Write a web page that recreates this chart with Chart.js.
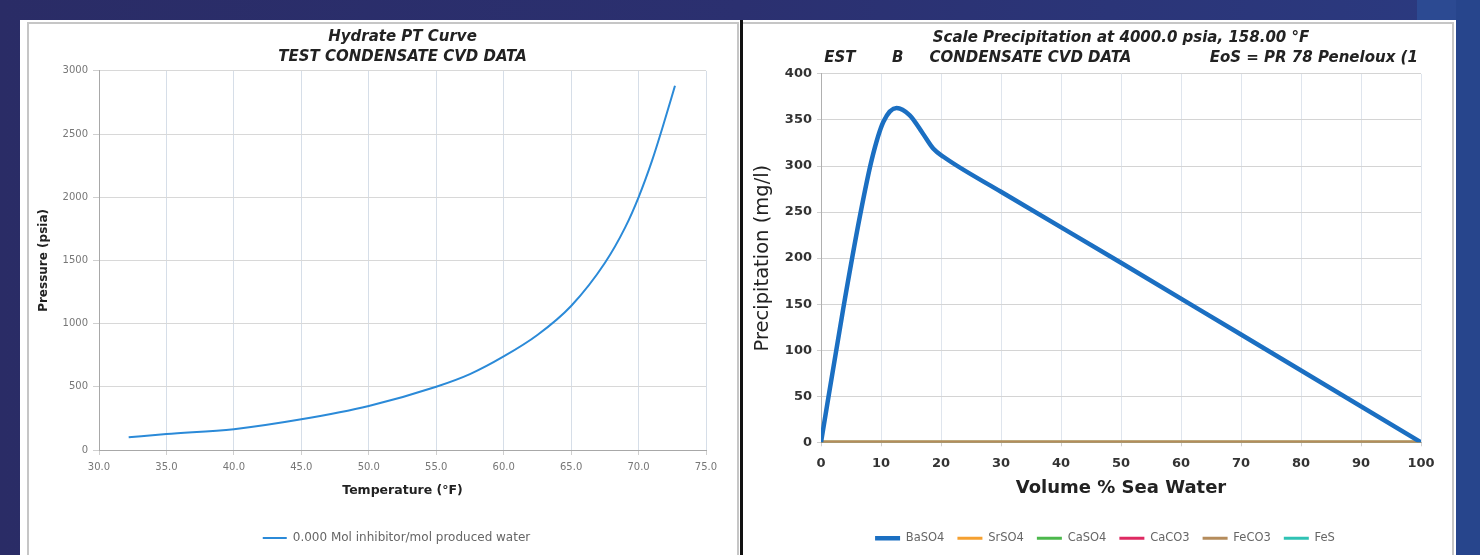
<!DOCTYPE html>
<html><head><meta charset="utf-8">
<script src="https://cdn.jsdelivr.net/npm/chart.js@4.4.0/dist/chart.umd.min.js"></script>
<style>
html,body{margin:0;padding:0;}
body{width:1480px;height:555px;overflow:hidden;position:relative;background:linear-gradient(90deg,#2a2c66 0%,#2b3070 50%,#2b3a80 100%);}
#tr{position:absolute;left:1417px;top:0;width:63px;height:20px;background:#2c4a92;}
#rs{position:absolute;left:1456px;top:0;width:24px;height:555px;background:#27458c;}
.panel{position:absolute;background:#fff;}
#p1{left:20px;top:20px;width:721px;height:535px;}
#p2{left:743px;top:20px;width:713px;height:535px;}
#dv{position:absolute;left:740px;top:20px;width:3px;height:535px;background:#111;}
.frame{position:absolute;border:2px solid #c6c6c6;}
#f1{left:27px;top:22px;width:708px;height:540px;}
#f2{left:743px;top:22px;width:709px;height:540px;border-left:none;}
canvas{position:absolute;}
#c1{left:22px;top:20px;}
#c2{left:744px;top:20px;}
</style></head>
<body>
<div id="tr"></div><div id="rs"></div>
<div class="panel" id="p1"></div><div class="panel" id="p2"></div>
<div class="frame" id="f1"></div><div class="frame" id="f2"></div>
<div id="dv"></div>
<canvas id="c2" width="722" height="535"></canvas>
<canvas id="c1" width="749" height="535"></canvas>
<script>
// ---- Left chart data: Hydrate PT curve ----
const hydrateTitle = ['Hydrate PT Curve', 'TEST CONDENSATE CVD DATA'];
const hydrateLabel = '0.000 Mol inhibitor/mol produced water';
const hydrateTemp = [32.2, 35, 40, 45, 50, 55, 57.5, 60, 62.5, 65, 67.5, 69, 70, 71, 71.8, 72.7];
const hydratePres = [100, 126, 165, 243, 348, 500, 600, 740, 910, 1140, 1480, 1760, 2000, 2290, 2560, 2882];
const hydrateXTicks = [30, 75, 5];
const hydrateYTicks = [0, 3000, 500];

// ---- Right chart data: Scale precipitation ----
const scaleTitle = ['Scale Precipitation at 4000.0 psia, 158.00 \u00B0F',
  'EST       B     CONDENSATE CVD DATA               EoS = PR 78 Peneloux (1'];
const seaWaterPct = [0, 3.7, 6.5, 8.5, 10.4, 12.6, 14.8, 17, 18.7, 20.4, 30, 50, 70, 100];
const baso4 = [0, 145, 246, 308, 348, 363, 355, 335, 319, 310, 272, 195, 117, 0];
const flatPct = [0, 100];
const srso4 = [0, 0];
const caso4 = [0, 0];
const caco3 = [0, 0];
const feco3 = [0, 0];
const fes = [0, 0];
const scaleNames = ['BaSO4', 'SrSO4', 'CaSO4', 'CaCO3', 'FeCO3', 'FeS'];
const scaleColors = ['#1b6fc2', '#f5a030', '#4cb84c', '#de2a62', '#b58c5c', '#2fc2b4'];
const scaleXTicks = [0, 100, 10];
const scaleYTicks = [0, 400, 50];

Chart.defaults.font.family = "'DejaVu Sans', sans-serif";
Chart.defaults.animation = false;

const pts = (xs, ys) => xs.map((x, i) => ({x: x, y: ys[i]}));
// invisible right-hand spacer axis so the legend centres like the original
const spacer = w => ({position: 'right', display: true, grid: {display: false, drawTicks: false},
  border: {display: false}, ticks: {display: false}, afterFit: s => { s.width = w; }});

new Chart(document.getElementById('c1'), {
  type: 'line',
  data: {datasets: [{
    label: hydrateLabel,
    data: pts(hydrateTemp, hydratePres),
    borderColor: '#2b8ad8', backgroundColor: '#2b8ad8',
    borderWidth: 2, pointRadius: 0, cubicInterpolationMode: 'monotone', fill: false
  }]},
  options: {
    responsive: false, devicePixelRatio: 1,
    layout: {padding: {left: 0, right: 0, top: 0, bottom: 1}},
    plugins: {
      title: {display: true, text: hydrateTitle, fullSize: false, color: '#222',
        font: {size: 15, weight: 'bold', style: 'italic', lineHeight: 1.33}, padding: {top: 7, bottom: 4}},
      legend: {position: 'bottom', labels: {usePointStyle: true, pointStyle: 'line', pointStyleWidth: 24,
        color: '#666', font: {size: 12}, padding: 10}},
      tooltip: {enabled: false}
    },
    scales: {
      x: {type: 'linear', min: hydrateXTicks[0], max: hydrateXTicks[1],
        ticks: {stepSize: hydrateXTicks[2], color: '#777', font: {size: 10}, padding: 6, maxRotation: 0, autoSkip: false,
          callback: v => v.toFixed(1)},
        grid: {color: '#d6dee8', tickLength: 5, tickColor: '#cfcfcf'},
        border: {color: '#a8a8a8'},
        title: {display: true, text: 'Temperature (\u00B0F)', color: '#222', font: {size: 12.5, weight: 'bold'}, padding: {top: 4, bottom: 24}}
      },
      y: {min: hydrateYTicks[0], max: hydrateYTicks[1],
        ticks: {stepSize: hydrateYTicks[2], color: '#777', font: {size: 10}, padding: 5, callback: v => String(v)},
        grid: {color: '#d8d8d8', tickLength: 6, tickColor: '#cfcfcf'},
        border: {color: '#a8a8a8'},
        title: {display: true, text: 'Pressure (psia)', color: '#222', font: {size: 12, weight: 'bold'}, padding: {top: 15, bottom: 0}},
        afterFit: s => { s.width = 77; }
      },
      yR: spacer(65)
    }
  }
});

const scaleX = [seaWaterPct, flatPct, flatPct, flatPct, flatPct, flatPct];
const scaleY = [baso4, srso4, caso4, caco3, feco3, fes];
const scaleOrder = [0, 2, 2, 2, 1, 2];
const scaleWidth = [4.5, 3, 3, 3, 3, 3];

new Chart(document.getElementById('c2'), {
  type: 'line',
  data: {datasets: scaleNames.map((n, i) => ({
    label: n, data: pts(scaleX[i], scaleY[i]),
    borderColor: scaleColors[i], backgroundColor: scaleColors[i],
    borderWidth: scaleWidth[i], borderCapStyle: 'round', pointRadius: 0,
    cubicInterpolationMode: 'monotone', fill: false, order: scaleOrder[i]
  }))},
  options: {
    responsive: false, devicePixelRatio: 1,
    layout: {padding: {left: 0, right: 0, top: 0, bottom: 1}},
    plugins: {
      title: {display: true, text: scaleTitle, fullSize: false, color: '#222',
        font: {size: 15, weight: 'bold', style: 'italic', lineHeight: 1.33}, padding: {top: 8, bottom: 6}},
      legend: {position: 'bottom', labels: {usePointStyle: true, pointStyle: 'line', pointStyleWidth: 25,
        color: '#666', font: {size: 11.5}, padding: 13, sort: (a, b) => a.datasetIndex - b.datasetIndex}},
      tooltip: {enabled: false}
    },
    scales: {
      x: {type: 'linear', min: scaleXTicks[0], max: scaleXTicks[1],
        ticks: {stepSize: scaleXTicks[2], color: '#333', font: {size: 13, weight: 'bold'}, padding: 10, maxRotation: 0, autoSkip: false},
        grid: {color: '#dfe5ed', tickLength: 4, tickColor: '#cfcfcf'},
        border: {color: '#b0b0b0'},
        title: {display: true, text: 'Volume % Sea Water', color: '#222', font: {size: 18, weight: 'bold'}, padding: {top: -4, bottom: 20}}
      },
      y: {min: scaleYTicks[0], max: scaleYTicks[1],
        ticks: {stepSize: scaleYTicks[2], color: '#333', font: {size: 13, weight: 'bold'}, padding: 5},
        grid: {color: '#d4d4d4', tickLength: 4, tickColor: '#cfcfcf'},
        border: {color: '#b0b0b0'},
        title: {display: true, text: 'Precipitation (mg/l)', color: '#222', font: {size: 19.5}, padding: {top: 7, bottom: 0}},
        afterFit: s => { s.width = 77; }
      },
      yR: spacer(45)
    }
  }
});
</script>
</body></html>
